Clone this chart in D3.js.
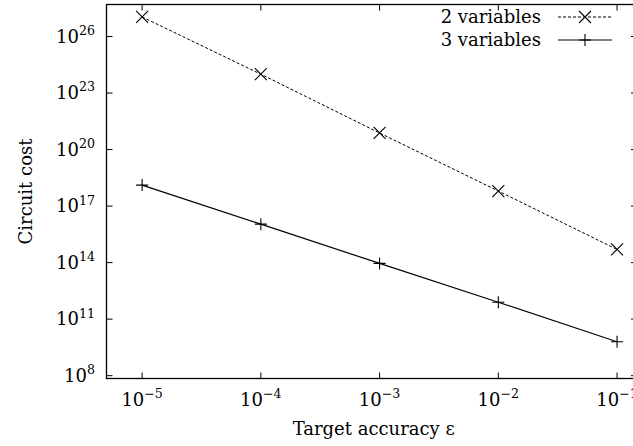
<!DOCTYPE html>
<html>
<head>
<meta charset="utf-8">
<script src="https://cdn.jsdelivr.net/npm/d3@7"></script>
<style>
  html, body { margin: 0; padding: 0; background: #fff; }
  svg { display: block; }
</style>
</head>
<body>
<svg id="chart" width="633" height="446"></svg>
<script>
// Target accuracy values (x) and circuit costs for each problem size
const accuracy = [1e-5, 1e-4, 1e-3, 1e-2, 1e-1];
const costTwoVars = [1.1e27, 1.0e24, 7.6e20, 6.3e17, 5.0e14];
const costThreeVars = [1.3e18, 1.1e16, 9.1e13, 7.9e11, 6.3e9];
const seriesNames = ["2 variables", "3 variables"];
const xTickExponents = [-5, -4, -3, -2, -1];
const yTickExponents = [8, 11, 14, 17, 20, 23, 26];
const xTitle = "Target accuracy ε";
const yTitle = "Circuit cost";

const frame = { left: 106.5, right: 637, top: 4.5, bottom: 378.5 };
const fontSize = 18;
const FONT = "DejaVu Serif";

const svg = d3.select("#chart");

const x = d3.scaleLog()
  .domain([Math.pow(10, -5.3), Math.pow(10, -0.832)])
  .range([frame.left, frame.right]);
const y = d3.scaleLog()
  .domain([Math.pow(10, 7.85), Math.pow(10, 27.7)])
  .range([frame.bottom, frame.top]);

const tickLen = 6;
const xTicks = xTickExponents.map(e => Math.pow(10, e));
const yTicks = yTickExponents.map(e => Math.pow(10, e));

// inward ticks on all four sides
const ticks = svg.append("g").attr("stroke", "#000").attr("stroke-width", 1);
xTicks.forEach(v => {
  const px = x(v);
  ticks.append("line").attr("x1", px).attr("x2", px).attr("y1", frame.bottom).attr("y2", frame.bottom - tickLen);
  ticks.append("line").attr("x1", px).attr("x2", px).attr("y1", frame.top).attr("y2", frame.top + tickLen);
});
yTicks.forEach(v => {
  const py = y(v);
  ticks.append("line").attr("x1", frame.left).attr("x2", frame.left + tickLen).attr("y1", py).attr("y2", py);
  ticks.append("line").attr("x1", frame.right).attr("x2", frame.right - tickLen).attr("y1", py).attr("y2", py);
});

// frame
svg.append("rect")
  .attr("x", frame.left).attr("y", frame.top)
  .attr("width", frame.right - frame.left).attr("height", frame.bottom - frame.top)
  .attr("fill", "none").attr("stroke", "#000").attr("stroke-width", 1.3);

function addText(opts) {
  return svg.append("text")
    .attr("font-family", FONT)
    .attr("font-size", fontSize)
    .attr("fill", "#000")
    .attr("text-anchor", opts.anchor || "start")
    .attr("x", opts.x).attr("y", opts.y);
}

// power-of-ten tick labels
function powerLabel(sel, exp) {
  sel.append("tspan").text("10");
  sel.append("tspan")
    .attr("dy", -fontSize * 0.42)
    .attr("font-size", fontSize * 0.7)
    .text(exp < 0 ? "\u2212" + (-exp) : String(exp));
}

xTickExponents.forEach(e => {
  powerLabel(addText({ x: x(Math.pow(10, e)), y: 406, anchor: "middle" }), e);
});
yTickExponents.forEach(e => {
  powerLabel(addText({ x: 95, y: y(Math.pow(10, e)) + 6, anchor: "end" }), e);
});

// axis titles
addText({ x: (frame.left + frame.right) / 2 + 2, y: 435, anchor: "middle" }).text(xTitle);
addText({ x: 0, y: 0, anchor: "middle" })
  .attr("transform", `translate(32,${(frame.top + frame.bottom) / 2}) rotate(-90)`)
  .text(yTitle);

// series
const series = [
  { name: seriesNames[0], values: costTwoVars, dash: "3,2", width: 1, marker: "cross" },
  { name: seriesNames[1], values: costThreeVars, dash: null, width: 1.2, marker: "plus" }
];

const line = d3.line().x(d => x(d[0])).y(d => y(d[1]));
const m = 6; // marker half-size

function drawMarker(g, cx, cy, kind) {
  const p = kind === "cross"
    ? `M${cx - m},${cy - m}L${cx + m},${cy + m}M${cx - m},${cy + m}L${cx + m},${cy - m}`
    : `M${cx - m},${cy}L${cx + m},${cy}M${cx},${cy - m}L${cx},${cy + m}`;
  g.append("path").attr("d", p).attr("stroke", "#000").attr("stroke-width", 1.1).attr("fill", "none");
}

const plot = svg.append("g");
series.forEach(s => {
  const pts = accuracy.map((a, i) => [a, s.values[i]]);
  plot.append("path")
    .attr("d", line(pts))
    .attr("fill", "none")
    .attr("stroke", "#000")
    .attr("stroke-width", s.width)
    .attr("stroke-dasharray", s.dash);
  pts.forEach(p => drawMarker(plot, x(p[0]), y(p[1]), s.marker));
});

// legend
const legendRows = [17, 40];
series.forEach((s, i) => {
  const ly = legendRows[i];
  addText({ x: 541, y: ly + 6, anchor: "end" }).text(s.name);
  svg.append("line")
    .attr("x1", 558).attr("x2", 612).attr("y1", ly).attr("y2", ly)
    .attr("stroke", "#000").attr("stroke-width", s.width)
    .attr("stroke-dasharray", s.dash);
  drawMarker(svg, 585, ly, s.marker);
});
</script>
</body>
</html>
